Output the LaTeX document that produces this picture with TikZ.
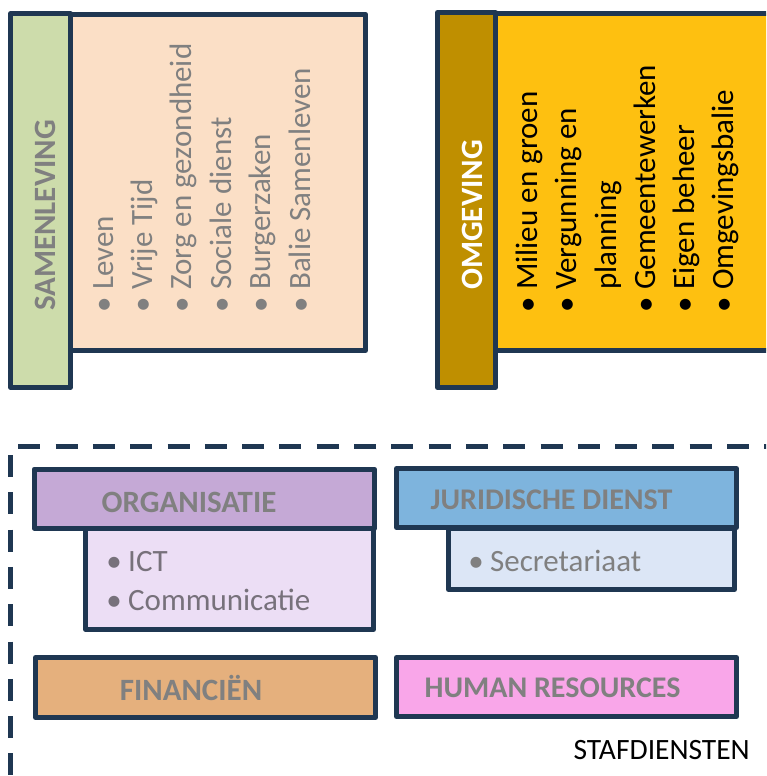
\documentclass[tikz,border=0pt]{standalone}
\usepackage{fontspec}
\setmainfont{Carlito}
\definecolor{navy}{HTML}{1F3752}
\definecolor{txtgray}{HTML}{808080}
\definecolor{ictgray}{HTML}{77717B}
\definecolor{samgreen}{HTML}{CDDCAB}
\definecolor{sampeach}{HTML}{FBDFC6}
\definecolor{omggold}{HTML}{BF8F00}
\definecolor{omgyellow}{HTML}{FEC010}
\definecolor{orgpurple}{HTML}{C5A9D6}
\definecolor{orglav}{HTML}{ECDEF5}
\definecolor{jurblue}{HTML}{7EB4DD}
\definecolor{jurlight}{HTML}{DCE6F6}
\definecolor{fintan}{HTML}{E5B07D}
\definecolor{hrpink}{HTML}{F9A6E9}
\begin{document}
\begin{tikzpicture}[x=1pt,y=1pt,
  boxline/.style={draw=navy, line width=5pt, line join=round},
  bigtxt/.style={font=\fontsize{31}{37}\selectfont, inner sep=0pt},
  headtxt/.style={bigtxt, font=\fontsize{31}{37}\selectfont\bfseries, text=txtgray, anchor=base},
  vitem/.style={bigtxt, rotate=90, anchor=base west},
  vbullet/.style={bigtxt, rotate=90, anchor=base east},
  hitem/.style={bigtxt, anchor=base west},
  hbullet/.style={bigtxt, anchor=base east},
  dashline/.style={draw=navy, line width=5pt, dash pattern=on 22pt off 15.3pt}]
\useasboundingbox (0,0) rectangle (766,-776);
\clip (0,0) rectangle (766,-776);

% ---------- SAMENLEVING ----------
\draw[boxline, fill=samgreen] (10.8,-13.5) rectangle (70.2,-387.5);
\draw[boxline, fill=sampeach] (70.2,-14.2) rectangle (365.5,-350.5);
\node[bigtxt, font=\fontsize{31}{37}\selectfont\bfseries, text=txtgray, rotate=90, anchor=base] (samt) at (55,-215.5) {SAMENLEVING};
\begin{scope}[every node/.append style={text=txtgray}]
\node[vbullet] (sb1) at (113,-297) {•};
\node[vitem] (s1) at (113,-290) {Leven};
\node[vbullet] (sb2) at (152.4,-297) {•};
\node[vitem] (s2) at (152.4,-290) {Vrije Tijd};
\node[vbullet] (sb3) at (191.8,-297) {•};
\node[vitem] (s3) at (191.8,-290) {Zorg en gezondheid};
\node[vbullet] (sb4) at (231.2,-297) {•};
\node[vitem] (s4) at (231.2,-290) {Sociale dienst};
\node[vbullet] (sb5) at (270.6,-297) {•};
\node[vitem] (s5) at (270.6,-290) {Burgerzaken};
\node[vbullet] (sb6) at (310,-297) {•};
\node[vitem] (s6) at (310,-290) {Balie Samenleven};
\end{scope}

% ---------- OMGEVING ----------
\draw[boxline, fill=omggold] (437.5,-12.5) rectangle (495.5,-387.5);
\draw[boxline, fill=omgyellow] (495.5,-13.3) rectangle (820,-350.8);
\node[bigtxt, font=\fontsize{31}{37}\selectfont\bfseries, text=white, rotate=90, anchor=base] (omgt) at (482,-215) {OMGEVING};
\begin{scope}[every node/.append style={text=black}]
\node[vbullet] (ob1) at (537,-297) {•};
\node[vitem] (o1) at (537,-290) {Milieu en groen};
\node[vbullet] (ob2) at (576.5,-297) {•};
\node[vitem] (o2) at (576.5,-290) {Vergunning en};
\node[vitem] (o2b) at (616,-290) {planning};
\node[vbullet] (ob3) at (655,-297) {•};
\node[vitem] (o3) at (655,-290) {Gemeentewerken};
\node[vbullet] (ob4) at (694,-297) {•};
\node[vitem] (o4) at (694,-290) {Eigen beheer};
\node[vbullet] (ob5) at (733,-297) {•};
\node[vitem] (o5) at (733,-290) {Omgevingsbalie};
\end{scope}

% ---------- STAFDIENSTEN frame ----------
\draw[dashline] (18.3,-446.8) -- (800,-446.8);
\draw[dashline] (10.8,-455) -- (10.8,-800);

% ---------- ORGANISATIE ----------
\draw[boxline, fill=orglav] (85.8,-528) rectangle (373.5,-629.5);
\draw[boxline, fill=orgpurple] (34.2,-469.2) rectangle (374.5,-528.2);
\node[headtxt] (orgt) at (189,-512) {ORGANISATIE};
\begin{scope}[every node/.append style={text=ictgray}]
\node[hbullet] (ib1) at (122,-571) {•};
\node[hitem] (i1) at (128,-571) {ICT};
\node[hbullet] (ib2) at (122,-610) {•};
\node[hitem] (i2) at (128,-610) {Communicatie};
\end{scope}

% ---------- JURIDISCHE DIENST ----------
\draw[boxline, fill=jurlight] (448.5,-528) rectangle (734.5,-589.5);
\draw[boxline, fill=jurblue] (396.5,-468.5) rectangle (736.5,-527.5);
\node[headtxt, font=\fontsize{30}{36}\selectfont\bfseries] (jurt) at (551.5,-509) {JURIDISCHE DIENST};
\node[hbullet, text=txtgray] (jb1) at (484,-571) {•};
\node[hitem, text=txtgray] (j1) at (490,-571) {Secretariaat};

% ---------- FINANCIËN ----------
\draw[boxline, fill=fintan] (35.5,-657.5) rectangle (375.5,-717.5);
\node[headtxt] (fint) at (191,-700.7) {FINANCIËN};

% ---------- HUMAN RESOURCES ----------
\draw[boxline, fill=hrpink] (396.5,-657.5) rectangle (736.5,-716.5);
\node[headtxt, font=\fontsize{30}{36}\selectfont\bfseries] (hrt) at (552.5,-697) {HUMAN RESOURCES};

% ---------- label ----------
\node[bigtxt, font=\fontsize{29.5}{35}\selectfont, text=black, anchor=base east] (staf) at (750,-759) {STAFDIENSTEN};
\end{tikzpicture}
\end{document}
